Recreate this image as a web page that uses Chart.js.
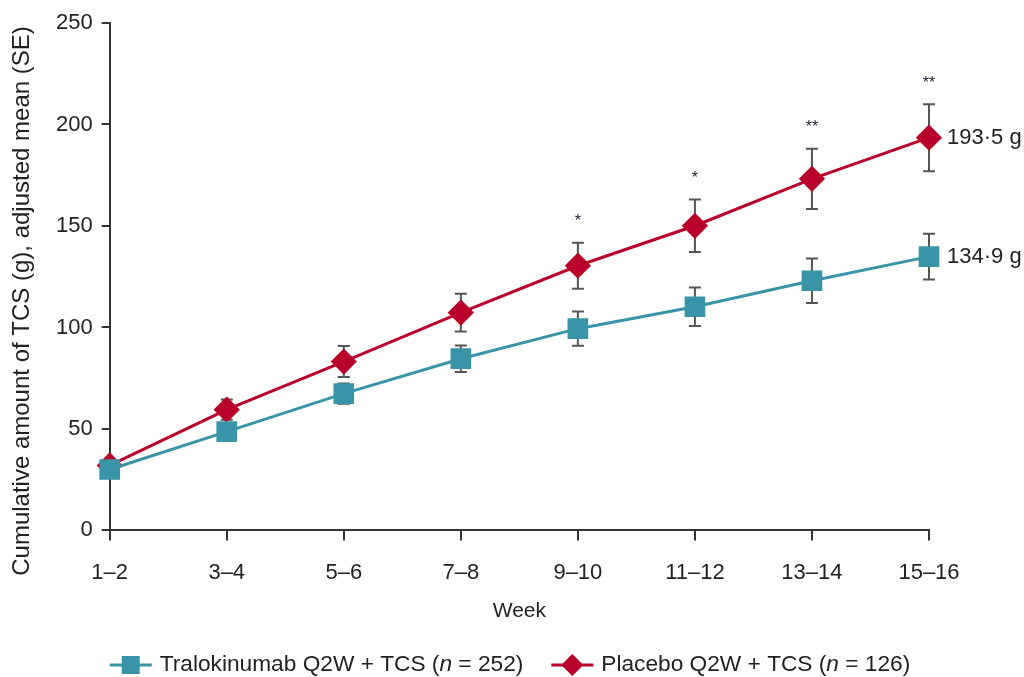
<!DOCTYPE html>
<html>
<head>
<meta charset="utf-8">
<script src="https://cdn.jsdelivr.net/npm/chart.js@4"></script>
<style>
  html, body { margin: 0; padding: 0; background: #fff; }
  #wrap { width: 1024px; height: 677px; }
</style>
</head>
<body>
<div id="wrap"><canvas id="tcsChart"></canvas></div>
<script>
const weeks = ['1–2', '3–4', '5–6', '7–8', '9–10', '11–12', '13–14', '15–16'];
const tralo = [30, 48.7, 67.4, 84.6, 99.4, 110.2, 123.0, 134.9];
const traloSE = [1.5, 2.5, 5, 6.5, 8.4, 9.5, 11, 11.3];
const placebo = [32, 59.5, 83.2, 107.3, 130.4, 150.1, 173.2, 193.5];
const placeboSE = [1.5, 5, 7.6, 9.3, 11.3, 12.9, 14.9, 16.5];
const stars = ['', '', '', '', '*', '*', '**', '**'];
const endLabels = ['134·9 g', '193·5 g'];
const yTicks = [0, 50, 100, 150, 200, 250];
const yTitle = 'Cumulative amount of TCS (g), adjusted mean (SE)';

const TEAL = 'rgb(58,148,168)';
const RED = 'rgb(185,0,42)';
const FONT = '"Liberation Sans", Arial, Helvetica, sans-serif';

// error bars, drawn under the lines
const errorBars = {
  id: 'errorBars',
  beforeDatasetsDraw(chart) {
    const ctx = chart.ctx;
    const x = chart.scales.x, y = chart.scales.y;
    const sets = [[tralo, traloSE], [placebo, placeboSE]];
    ctx.save();
    ctx.strokeStyle = '#555';
    ctx.lineWidth = 2;
    sets.forEach(([vals, se]) => {
      vals.forEach((v, i) => {
        const px = x.getPixelForValue(i);
        const top = y.getPixelForValue(v + se[i]);
        const bot = y.getPixelForValue(v - se[i]);
        ctx.beginPath();
        ctx.moveTo(px, top); ctx.lineTo(px, bot);
        ctx.moveTo(px - 6, top); ctx.lineTo(px + 6, top);
        ctx.moveTo(px - 6, bot); ctx.lineTo(px + 6, bot);
        ctx.stroke();
      });
    });
    ctx.restore();
  }
};

// y title, asterisks, end labels and legend
const annotations = {
  id: 'annotations',
  afterDraw(chart) {
    const ctx = chart.ctx;
    const x = chart.scales.x, y = chart.scales.y;
    ctx.save();

    ctx.save();
    ctx.translate(22, 301);
    ctx.rotate(-Math.PI / 2);
    ctx.fillStyle = '#222';
    ctx.font = '24px ' + FONT;
    ctx.textAlign = 'center';
    ctx.textBaseline = 'middle';
    ctx.fillText(yTitle, 0, 0);
    ctx.restore();

    ctx.fillStyle = '#223';
    ctx.font = '16px ' + FONT;
    ctx.textAlign = 'center';
    ctx.textBaseline = 'middle';
    stars.forEach((s, i) => {
      if (!s) return;
      ctx.fillText(s, x.getPixelForValue(i), y.getPixelForValue(placebo[i] + placeboSE[i]) - 21);
    });

    const last = weeks.length - 1;
    ctx.fillStyle = '#222';
    ctx.font = '22px ' + FONT;
    ctx.textAlign = 'left';
    ctx.fillText(endLabels[0], x.getPixelForValue(last) + 18, y.getPixelForValue(tralo[last]));
    ctx.fillText(endLabels[1], x.getPixelForValue(last) + 18, y.getPixelForValue(placebo[last]));

    // legend
    const items = [
      { color: TEAL, style: 'rect', parts: ['Tralokinumab Q2W + TCS (', 'n', ' = 252)'] },
      { color: RED, style: 'diamond', parts: ['Placebo Q2W + TCS (', 'n', ' = 126)'] }
    ];
    const ly = 665;
    const fonts = ['22.7px ' + FONT, 'italic 22.7px ' + FONT, '22.7px ' + FONT];
    let widths = items.map(it => 42 + 8 + it.parts.reduce((w, p, k) => {
      ctx.font = fonts[k]; return w + ctx.measureText(p).width;
    }, 0));
    const gap = 28;
    let lx = (chart.width - (widths[0] + widths[1] + gap)) / 2 - 2;
    items.forEach((it, n) => {
      ctx.strokeStyle = it.color;
      ctx.fillStyle = it.color;
      ctx.lineWidth = 3;
      ctx.beginPath(); ctx.moveTo(lx, ly); ctx.lineTo(lx + 42, ly); ctx.stroke();
      const cx = lx + 21;
      ctx.beginPath();
      if (it.style === 'rect') {
        ctx.rect(cx - 9, ly - 9, 18, 18);
      } else {
        ctx.moveTo(cx, ly - 11); ctx.lineTo(cx + 11, ly); ctx.lineTo(cx, ly + 11); ctx.lineTo(cx - 11, ly);
        ctx.closePath();
      }
      ctx.fill();
      let tx = lx + 50;
      ctx.fillStyle = '#222';
      it.parts.forEach((p, k) => {
        ctx.font = fonts[k];
        ctx.fillText(p, tx, ly);
        tx += ctx.measureText(p).width;
      });
      lx += widths[n] + gap;
    });
    ctx.restore();
  }
};

new Chart(document.getElementById('tcsChart'), {
  type: 'line',
  data: {
    labels: weeks,
    datasets: [{
      label: 'Tralokinumab Q2W + TCS (n = 252)',
      data: tralo,
      borderColor: TEAL,
      backgroundColor: TEAL,
      borderWidth: 3,
      pointStyle: 'rect',
      pointRadius: 12.5,
      pointHoverRadius: 12.5
    }, {
      label: 'Placebo Q2W + TCS (n = 126)',
      data: placebo,
      borderColor: RED,
      backgroundColor: RED,
      borderWidth: 3,
      pointStyle: 'rectRot',
      pointRadius: 11,
      pointHoverRadius: 11
    }]
  },
  options: {
    responsive: true,
    maintainAspectRatio: false,
    animation: false,
    layout: { padding: { top: 23, right: 95, bottom: 53, left: 47 } },
    plugins: {
      legend: { display: false },
      tooltip: { enabled: false }
    },
    scales: {
      x: {
        offset: false,
        grid: { drawOnChartArea: false, color: '#333', tickLength: 10, lineWidth: 2 },
        border: { color: '#333', width: 2 },
        ticks: { color: '#222', font: { family: FONT, size: 22 }, padding: 19, maxRotation: 0 },
        title: { display: true, text: 'Week', color: '#222', font: { family: FONT, size: 21 }, padding: { top: -6, bottom: 0 } }
      },
      y: {
        min: 0,
        max: 250,
        afterBuildTicks: (axis) => { axis.ticks = yTicks.map(v => ({ value: v })); },
        grid: { drawOnChartArea: false, color: '#333', tickLength: 8, lineWidth: 2 },
        border: { color: '#333', width: 2 },
        ticks: { color: '#222', font: { family: FONT, size: 22 }, padding: 9 }
      }
    }
  },
  plugins: [errorBars, annotations]
});
</script>
</body>
</html>
